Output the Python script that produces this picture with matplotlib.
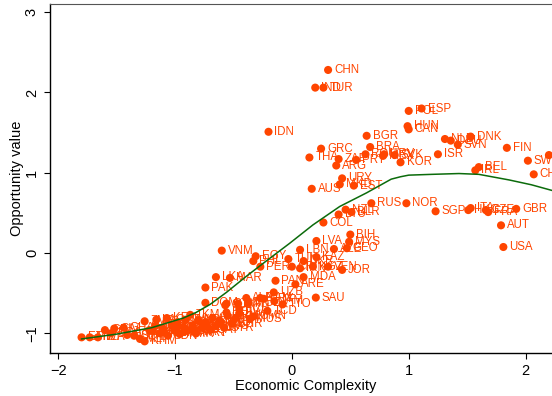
import matplotlib
matplotlib.use('Agg')
from matplotlib import pyplot as plt

plt.rcParams['font.family'] = ['Liberation Sans', 'DejaVu Sans']

# country codes, economic complexity (x), opportunity value (y)
codes = ['CHN', 'IND', 'TUR', 'POL', 'ESP', 'HUN', 'CAN', 'BGR', 'BRA', 'GRC',
         'THA', 'ZAF', 'ARG', 'PRT', 'ROU', 'MEX', 'HRV', 'SVK', 'KOR', 'ISR',
         'NLD', 'DEU', 'SVN', 'DNK', 'FIN', 'SWE', 'JPN', 'CHE', 'BEL', 'IRL',
         'URY', 'MKD', 'EST', 'AUS', 'RUS', 'NOR', 'SGP', 'ITA', 'HKG', 'CZE',
         'FRA', 'GBR', 'AUT', 'USA', 'NZL', 'BLR', 'LTU', 'COL', 'BIH', 'LVA',
         'MYS', 'AZE', 'GEO', 'LBN', 'KAZ', 'VNM', 'EGY', 'PHL', 'TUN', 'UKR',
         'PER', 'CRI', 'IRN', 'KGZ', 'VEN', 'JOR', 'MDA', 'LKA', 'MAR', 'PAK',
         'PAN', 'ARE', 'UZB', 'SAU', 'ALB', 'PRY', 'TTO', 'IDN', 'DOM', 'GTM',
         'SLV', 'HND', 'ECU', 'MOZ', 'BOL', 'NAM', 'TCD', 'OMN',
         'ETH', 'MWI', 'TZA', 'GIN', 'UGA', 'CIV', 'GHA', 'NGA', 'SEN', 'KHM',
         'MLI', 'ZMB', 'TJK', 'CMR', 'LAO', 'YEM', 'MDG', 'KEN', 'SDN', 'AGO',
         'BGD', 'NIC', 'MMR', 'GAB', 'ZWE', 'COG', 'TKM', 'LBY', 'MRT', 'NPL',
         'PNG', 'DZA', 'QAT', 'CUB', 'MNG', 'HTI', 'SYR', 'ARM', 'BHR', 'KWT',
         'BWA', 'MUS', 'JAM', 'ZAR', 'NER', 'BFA', 'RWA', 'SLE', 'LBR', 'TGO']

eci = [0.31, 0.20, 0.27, 1.00, 1.11, 0.99, 1.00, 0.64, 0.67, 0.25,
       0.15, 0.40, 0.38, 0.55, 0.63, 0.78, 0.79, 0.88, 0.93, 1.25,
       1.31, 1.36, 1.42, 1.53, 1.84, 2.02, 2.20, 2.07, 1.60, 1.57,
       0.43, 0.41, 0.53, 0.17, 0.68, 0.98, 1.23, 1.53, 1.51, 1.66,
       1.68, 1.92, 1.79, 1.81, 0.46, 0.51, 0.40, 0.27, 0.50, 0.21,
       0.49, 0.36, 0.47, 0.07, 0.21, -0.60, -0.31, -0.33, -0.03, 0.10,
       -0.27, 0.00, 0.07, 0.18, 0.31, 0.43, 0.10, -0.65, -0.53, -0.74,
       -0.14, 0.03, -0.155, 0.205, -0.39, -0.24, -0.08, -0.20, -0.74, -0.56,
       -0.57, -0.46, -0.45, -0.37, -0.56, -0.27, -0.21, -0.33,
       -1.80, -1.73, -1.66, -1.60, -1.55, -1.52, -1.44, -1.41, -1.35, -1.26,
       -1.30, -1.26, -1.22, -1.17, -1.16, -1.13, -1.11, -1.07, -1.06, -1.03,
       -1.00, -0.98, -0.96, -0.93, -0.91, -0.89, -0.87, -0.85, -0.82, -0.80,
       -0.77, -0.74, -0.70, -0.68, -0.65, -0.62, -0.58, -0.55, -0.51, -0.48,
       -0.45, -0.36, -0.15, -1.19, -1.09, -0.99, -0.92, -0.84, -0.72, -0.61]

opp = [2.28, 2.06, 2.06, 1.77, 1.80, 1.58, 1.54, 1.46, 1.32, 1.30,
       1.19, 1.17, 1.09, 1.16, 1.23, 1.21, 1.23, 1.22, 1.13, 1.23,
       1.42, 1.40, 1.35, 1.45, 1.31, 1.15, 1.22, 0.98, 1.07, 1.03,
       0.93, 0.855, 0.84, 0.80, 0.62, 0.62, 0.52, 0.56, 0.535, 0.535,
       0.51, 0.55, 0.345, 0.075, 0.54, 0.51, 0.48, 0.38, 0.23, 0.15,
       0.14, 0.05, 0.06, 0.04, -0.05, 0.03, -0.04, -0.10, -0.075, -0.10,
       -0.17, -0.17, -0.19, -0.17, -0.17, -0.21, -0.30, -0.30, -0.31, -0.43,
       -0.345, -0.39, -0.49, -0.555, -0.56, -0.57, -0.64, 1.51, -0.62, -0.63,
       -0.65, -0.63, -0.70, -0.62, -0.74, -0.56, -0.72, -0.79,
       -1.05, -1.05, -1.05, -0.96, -1.00, -0.94, -0.93, -1.02, -1.03, -1.10,
       -1.07, -0.85, -0.96, -0.91, -0.83, -1.00, -0.93, -0.81, -1.03, -0.90,
       -0.97, -0.86, -1.01, -0.92, -0.83, -0.96, -0.77, -0.90, -1.00, -0.84,
       -0.93, -0.86, -0.96, -0.81, -0.91, -0.84, -0.93, -0.78, -0.88, -0.81,
       -0.75, -0.82, -0.60, -0.97, -0.99, -0.94, -0.98, -0.95, -0.92, -0.87]

# smoothed fit
fit_x = [-1.80, -1.50, -1.20, -0.93, -0.82, -0.70, -0.56, -0.39, -0.22, -0.02,
         0.18, 0.41, 0.64, 0.85, 0.93, 1.00, 1.20, 1.43, 1.60, 1.86, 2.05, 2.30]
fit_y = [-1.07, -1.01, -0.93, -0.81, -0.74, -0.64, -0.49, -0.29, -0.10, 0.12,
         0.35, 0.58, 0.75, 0.92, 0.95, 0.97, 0.98, 0.99, 0.98, 0.91, 0.85, 0.75]

dot_col = '#ff4500'

fig = plt.figure(figsize=(5.52, 3.96), dpi=100)
ax = fig.add_axes([0.0906, 0.1086, 0.925, 0.881])

ax.scatter(eci, opp, s=34, color=dot_col, edgecolors='none', zorder=2)
for c, x, y in zip(codes, eci, opp):
    ax.annotate(c, (x, y), xytext=(4.3, 0), textcoords='offset points',
                fontsize=8.3, color=dot_col, va='center', ha='left', zorder=3)

ax.plot(fit_x, fit_y, color='#0b6b0b', lw=1.1, zorder=4)

ax.set_xlim(-2.07, 2.30)
ax.set_ylim(-1.245, 3.10)
ax.set_xticks([-2, -1, 0, 1, 2])
ax.set_yticks([-1, 0, 1, 2, 3])
ax.tick_params(direction='out', length=4.5, width=0.8, labelsize=10.5)
for lab in ax.get_yticklabels():
    lab.set_rotation(90)
    lab.set_va('center')

ax.spines['right'].set_visible(False)
ax.spines['left'].set_linewidth(1.0)
ax.spines['bottom'].set_linewidth(1.0)
ax.spines['top'].set_linewidth(0.8)
ax.spines['top'].set_color('#555555')

ax.set_xlabel('Economic Complexity', fontsize=10.5, labelpad=1)
ax.set_ylabel('Opportunity value', fontsize=10.5, labelpad=1)

fig.savefig('out.png', dpi=100)
